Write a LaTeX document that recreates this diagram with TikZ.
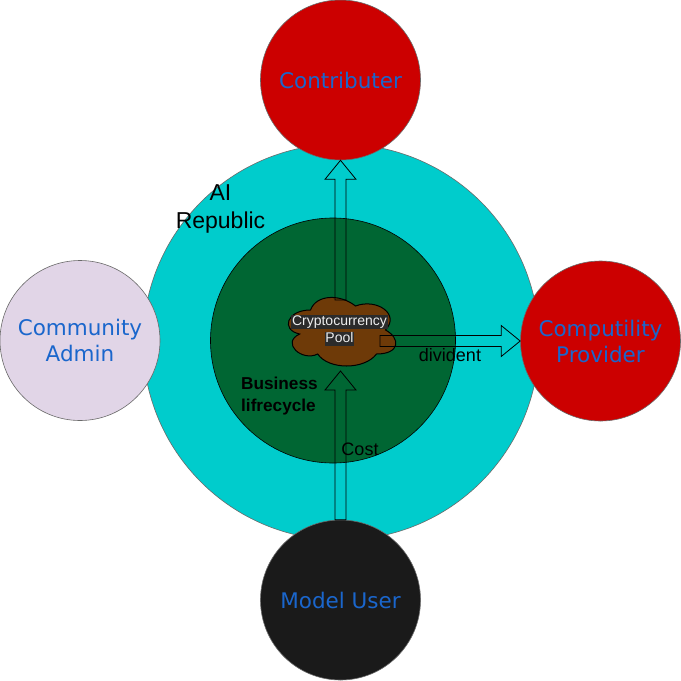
\documentclass[tikz,border=0pt]{standalone}
\usepackage{fontspec}
\setmainfont{Liberation Sans}
\newfontfamily\dejavu{DejaVu Sans}
\usetikzlibrary{calc}
\definecolor{cyanbg}{HTML}{00CCCC}
\definecolor{dkgreen}{HTML}{006633}
\definecolor{redfill}{HTML}{CC0000}
\definecolor{lavender}{HTML}{E1D5E7}
\definecolor{userblack}{HTML}{1A1A1A}
\definecolor{brownfill}{HTML}{6E3A08}
\definecolor{labelblue}{HTML}{1A66CC}
\definecolor{poolbg}{HTML}{2B2B2B}
\definecolor{poolfg}{HTML}{EEEEEE}
\definecolor{rimgray}{HTML}{6A6A6A}
\newcommand\poolhl[1]{{\setlength{\fboxsep}{0.6pt}\colorbox{poolbg}{\vphantom{Cy}#1}}}
\begin{document}
\begin{tikzpicture}[x=1pt,y=-1pt,
  ring/.style={circle, inner sep=0pt, minimum size=160pt, draw=rimgray, line width=0.6pt,
    text=labelblue, font=\dejavu\fontsize{21.5}{26}\selectfont, align=center},
  plainlbl/.style={inner sep=0pt, text=black},
  blockarrow/.style={draw=black, line width=0.8pt, line join=miter, to path={
    ($(\tikztostart)!5.5pt!90:(\tikztotarget)$)
    -- ($($(\tikztotarget)!19pt!(\tikztostart)$)!5.5pt!-90:(\tikztostart)$)
    -- ($($(\tikztotarget)!19pt!(\tikztostart)$)!15.5pt!-90:(\tikztostart)$)
    -- (\tikztotarget)
    -- ($($(\tikztotarget)!19pt!(\tikztostart)$)!15.5pt!90:(\tikztostart)$)
    -- ($($(\tikztotarget)!19pt!(\tikztostart)$)!5.5pt!90:(\tikztostart)$)
    -- ($(\tikztostart)!5.5pt!-90:(\tikztotarget)$)
    -- cycle}},
]
\useasboundingbox (0,0) rectangle (681,681);
\fill[white] (0,0) rectangle (681,681);

% AI Republic ring
\node[circle, inner sep=0pt, minimum size=396pt, fill=cyanbg, draw=rimgray, line width=0.6pt] (republic) at (341,342) {};

% outer actors
\node[ring, fill=redfill] (contrib) at (340.5,80) {Contributer};
\node[ring, fill=lavender] (admin) at (80,340.5) {Community\\Admin};
\node[ring, fill=redfill] (comp) at (600.5,341) {Computility\\Provider};
\node[ring, fill=userblack] (user) at (340.5,600) {Model User};

% business lifecycle circle
\node[circle, inner sep=0pt, minimum size=245pt, fill=dkgreen, draw=black, line width=0.6pt] (business) at (333,340.5) {};

% cryptocurrency pool cloud
\begin{scope}[shift={(280.5,290)}, x=120pt, y=-80pt]
  \draw[fill=brownfill, draw=black, line width=1pt]
    (0.25,0.25) .. controls (0.05,0.25) and (0,0.5) .. (0.16,0.55)
    .. controls (0,0.66) and (0.18,0.9) .. (0.31,0.8)
    .. controls (0.4,1) and (0.7,1) .. (0.8,0.8)
    .. controls (1,0.8) and (1,0.6) .. (0.875,0.5)
    .. controls (1,0.3) and (0.8,0.1) .. (0.625,0.2)
    .. controls (0.5,0.05) and (0.3,0.05) .. (0.25,0.25) -- cycle;
\end{scope}
\coordinate (cloudtop) at (340.5,300);
\coordinate (cloudbottom) at (340.5,371);
\coordinate (cloudright) at (380,341);

\node[plainlbl, align=center, text=poolfg, font=\fontsize{14}{17}\selectfont] (pool) at (339.5,330.5)
  {\poolhl{Cryptocurrency}\\\poolhl{Pool}};

% flows
\draw[blockarrow] (cloudtop) to (contrib.south);
\draw[blockarrow] (cloudright) to (comp.west);
\draw[blockarrow] (user.north) to (cloudbottom);

% labels
\node[plainlbl, align=center, font=\fontsize{23}{28}\selectfont] (airep) at (220.5,209) {AI\\Republic};
\node[plainlbl, anchor=west, align=left, font=\bfseries\fontsize{17.2}{22}\selectfont] (biz) at (241,396) {Business\\lifrecycle};
\node[plainlbl, font=\fontsize{18}{20}\selectfont] (divlbl) at (450,355) {divident};
\node[plainlbl, font=\fontsize{18}{20}\selectfont] (costlbl) at (360,449) {Cost};
\end{tikzpicture}
\end{document}
